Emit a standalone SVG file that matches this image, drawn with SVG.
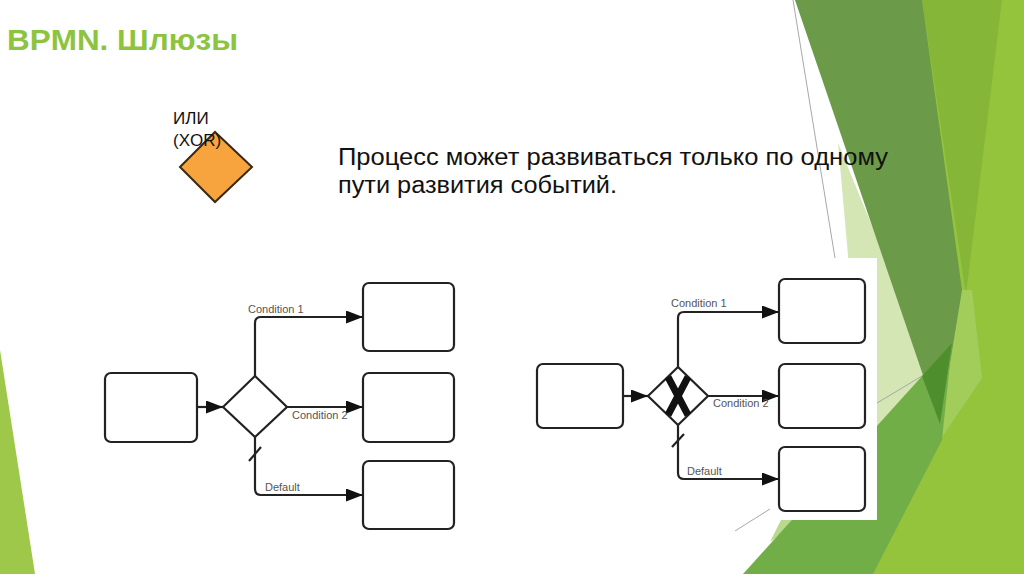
<svg xmlns="http://www.w3.org/2000/svg" width="1024" height="574" viewBox="0 0 1024 574">
  <defs>
    <marker id="arr" markerUnits="userSpaceOnUse" markerWidth="17" markerHeight="13" viewBox="0 0 17 13" refX="17" refY="6.5" orient="auto">
      <path d="M0,0 L17,6.5 L0,13 z" fill="#111"/>
    </marker>
    <style>
      .box { fill: #fff; stroke: #222; stroke-width: 2.2; }
      .gw { fill: #fff; stroke: #222; stroke-width: 2.2; }
      .flow { fill: none; stroke: #222; stroke-width: 2.2; }
      .lbl { font-family: "Liberation Sans", Arial, sans-serif; font-size: 11px; fill: #555; }
      .body { font-family: "Liberation Sans", Arial, sans-serif; fill: #111; }
      .thin { stroke: #a8a8a8; stroke-width: 1; fill: none; }
    </style>
  </defs>

  <rect width="1024" height="574" fill="#fff"/>

  <!-- background decoration -->
  <g id="background">
    <polygon points="0,350 35,574 0,574" fill="#9dc84a"/>
    <line class="thin" x1="793" y1="0" x2="835" y2="258"/>
    <line class="thin" x1="735" y1="531" x2="770" y2="509"/>
    <polygon points="900,0 1024,0 1024,574 868,574" fill="#94c43c"/>
    <polygon points="922,0 1002,0 966,295" fill="#86b638"/>
    <polygon points="958,290 972,290 982,378 940,440" fill="#a3cd5b"/>
    <polygon points="838,143 932,372 877,430 852,300" fill="#d4e6b3"/>
    <line class="thin" x1="877" y1="403" x2="922" y2="376"/>
    <polygon points="770,542 806,518 782,518" fill="#b9d98e"/>
    <polygon points="795,0 922,0 962,290 940,425" fill="#6b9a48"/>
    <polygon points="743,574 952,343 942,440 873,574" fill="#72ae47"/>
    <polygon points="922,376 952,343 940,424" fill="#4f8e2c"/>
    <rect x="770" y="258" width="107" height="262" fill="#fff"/>
  </g>

  <!-- title -->
  <text x="7" y="50" font-family="Liberation Sans, Arial, sans-serif" font-weight="bold" font-size="30" fill="#8cc43f" textLength="231" lengthAdjust="spacingAndGlyphs">BPMN. Шлюзы</text>

  <!-- legend gateway -->
  <g id="legend-gateway">
    <polygon points="180,167 215,132 252,167 215,202" fill="#f7a43f" stroke="#3a2a12" stroke-width="2"/>
    <text class="body" x="173" y="124" font-size="17">ИЛИ</text>
    <text class="body" x="173" y="146" font-size="17">(XOR)</text>
  </g>

  <!-- description -->
  <g id="description">
    <text class="body" x="338" y="165" font-size="23" textLength="550" lengthAdjust="spacingAndGlyphs">Процесс может развиваться только по одному</text>
    <text class="body" x="338" y="193" font-size="23" textLength="279" lengthAdjust="spacingAndGlyphs">пути развития событий.</text>
  </g>

  <!-- diagram 1 -->
  <g id="d1-start"><rect class="box" x="105" y="373" width="92" height="69" rx="6"/></g>
  <g id="d1-gateway"><polygon class="gw" points="223,407 255,376 287,407 255,437"/></g>
  <g id="d1-task1"><rect class="box" x="363" y="283" width="91" height="68" rx="6"/></g>
  <g id="d1-task2"><rect class="box" x="363" y="373" width="91" height="69" rx="6"/></g>
  <g id="d1-task3"><rect class="box" x="363" y="461" width="91" height="68" rx="6"/></g>

  <!-- diagram 2 -->
  <g id="d2-start"><rect class="box" x="537" y="364" width="86" height="64" rx="6"/></g>
  <g id="d2-gateway">
    <polygon class="gw" points="648,396 678,367 708,396 678,425"/>
    <path d="M668,377 L688,415 M688,377 L668,415" stroke="#111" stroke-width="7" stroke-linecap="butt" fill="none"/>
  </g>
  <g id="d2-task1"><rect class="box" x="779" y="279" width="86" height="64" rx="6"/></g>
  <g id="d2-task2"><rect class="box" x="779" y="364" width="86" height="64" rx="6"/></g>
  <g id="d2-task3"><rect class="box" x="779" y="447" width="86" height="64" rx="6"/></g>

  <!-- connectors -->
  <g id="connectors">
    <path class="flow" d="M197,407 H223" marker-end="url(#arr)"/>
    <path class="flow" d="M255,376 V323 Q255,317 261,317 H363" marker-end="url(#arr)"/>
    <path class="flow" d="M287,407 H363" marker-end="url(#arr)"/>
    <path class="flow" d="M255,437 V489 Q255,495 261,495 H363" marker-end="url(#arr)"/>
    <path class="flow" d="M249,461 L261,447" stroke-width="1.6"/>
    <text class="lbl" x="248" y="313">Condition 1</text>
    <text class="lbl" x="292" y="419">Condition 2</text>
    <text class="lbl" x="265" y="491">Default</text>

    <path class="flow" d="M623,396 H648" marker-end="url(#arr)"/>
    <path class="flow" d="M678,367 V318 Q678,312 684,312 H779" marker-end="url(#arr)"/>
    <path class="flow" d="M708,396 H779" marker-end="url(#arr)"/>
    <path class="flow" d="M678,425 V473 Q678,479 684,479 H779" marker-end="url(#arr)"/>
    <path class="flow" d="M672,447 L684,434" stroke-width="1.6"/>
    <text class="lbl" x="671" y="307">Condition 1</text>
    <text class="lbl" x="713" y="407">Condition 2</text>
    <text class="lbl" x="687" y="475">Default</text>
  </g>
</svg>
